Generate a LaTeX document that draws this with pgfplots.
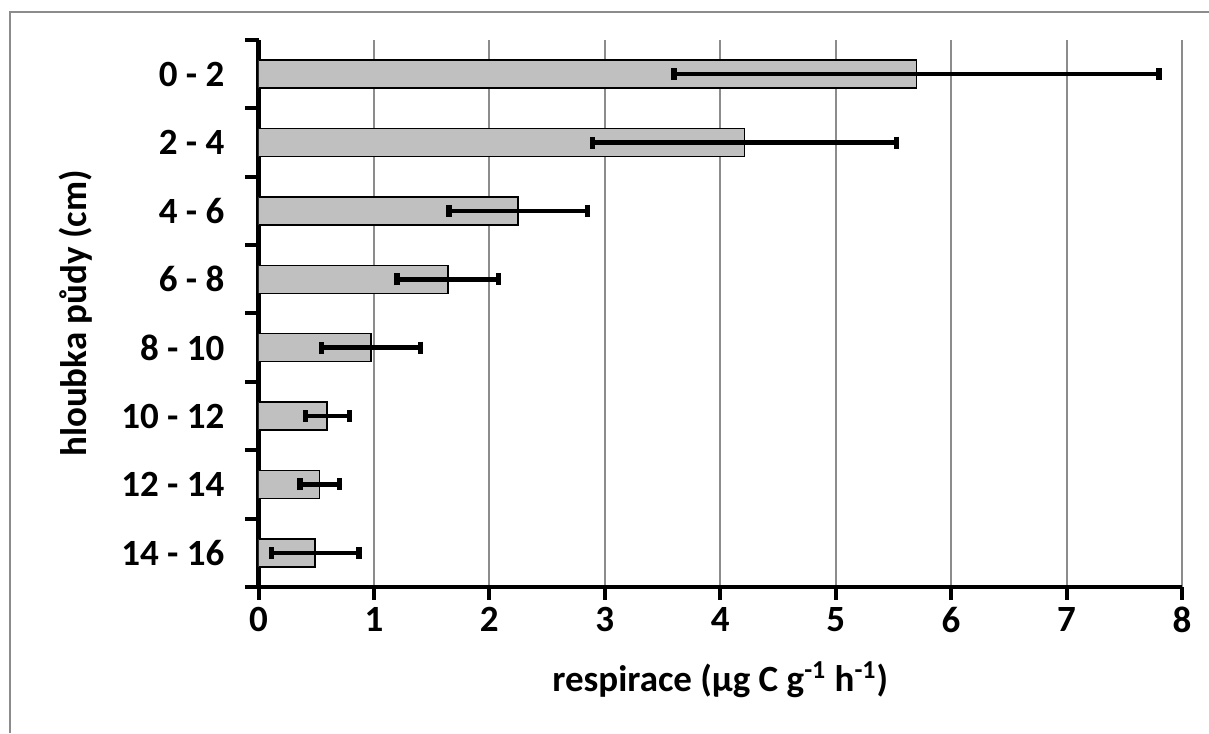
\documentclass[border=0pt]{standalone}
\usepackage{fontspec}
\setmainfont{Carlito}
\usepackage{pgfplots}
\usepackage{pgfplotstable}
\pgfplotsset{compat=1.18}

\definecolor{barfill}{HTML}{C0C0C0}
\definecolor{gridgray}{HTML}{8C8C8C}

% c = category position (0 = 14-16 at bottom, 7 = 0-2 at top), v = mean, e = error
\pgfplotstableread{
c v e
7 5.70 2.10
6 4.21 1.32
5 2.25 0.60
4 1.64 0.44
3 0.975 0.43
2 0.595 0.19
1 0.53 0.17
0 0.49 0.38
}\resp

\newcommand{\lblfont}{\fontsize{18.5}{22}\selectfont\bfseries}

\begin{document}
\begin{tikzpicture}
\useasboundingbox (0,0) rectangle (604.5pt,366.5pt);
\draw[gridgray, line width=1pt] (5pt,0) -- (5pt,360.25pt) -- (604.5pt,360.25pt);
\begin{axis}[
  at={(129.25pt,73pt)}, anchor=south west,
  scale only axis, width=461.75pt, height=273.5pt,
  xmin=0, xmax=8, ymin=-0.5, ymax=7.5,
  axis lines*=left,
  axis line style={line width=2.4pt, black},
  xtick={0,...,8},
  ytick={-0.5,0.5,...,6.5},
  yticklabels={14 - 16, 12 - 14, 10 - 12, 8 - 10, 6 - 8, 4 - 6, 2 - 4, 0 - 2},
  extra y ticks={7.5}, extra y tick labels={},
  tick align=outside, major tick length=6.5pt,
  tick style={black, line width=2pt},
  xmajorgrids, grid style={gridgray, line width=1pt},
  tick label style={font=\lblfont},
  /pgf/number format/assume math mode=true,
  yticklabel style={xshift=-7pt, yshift=17.1pt},
  xlabel={respirace (µg C g\textsuperscript{-1} h\textsuperscript{-1})},
  ylabel={hloubka půdy (cm)},
  label style={font=\lblfont},
  xlabel style={at={(axis description cs:0.5,-0.17)}, anchor=center},
  ylabel style={at={(axis description cs:-0.1976,0.5)}, anchor=center},
]
\addplot[xbar, bar width=0.41, fill=barfill, draw=black, line width=0.75pt,
  error bars/.cd, x dir=both, x explicit,
  error mark=|,
  error bar style={line width=2.3pt, black},
  error mark options={line width=2.6pt, mark size=3pt, black}]
  table[x=v, y=c, x error=e] {\resp};
\end{axis}
\end{tikzpicture}
\end{document}
